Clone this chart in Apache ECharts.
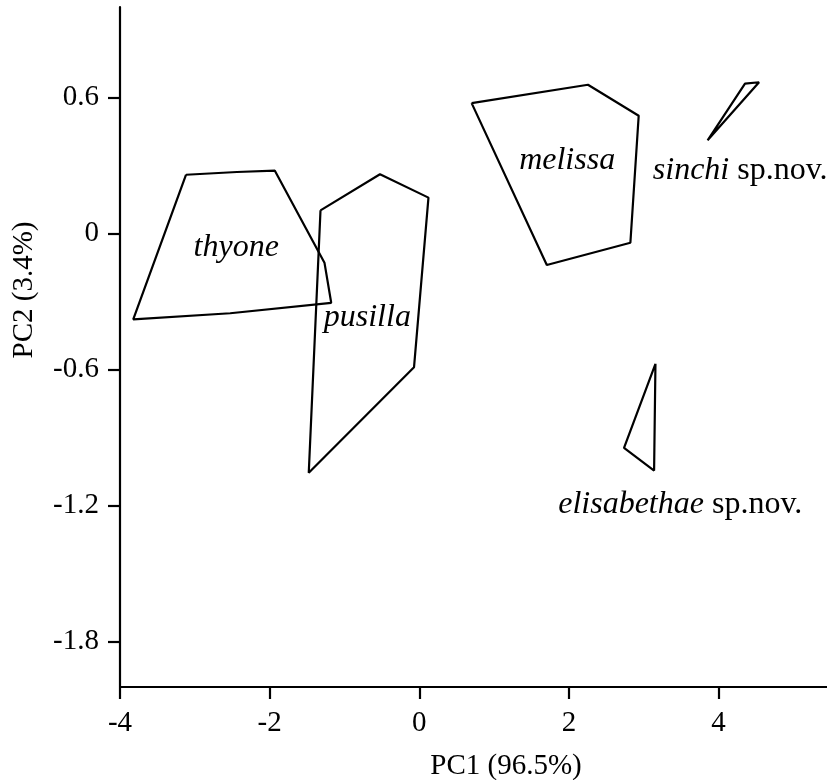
<!DOCTYPE html>
<html>
<head>
<meta charset="utf-8">
<script src="https://cdn.jsdelivr.net/npm/echarts@6/dist/echarts.min.js"></script>
<style>
html,body{margin:0;padding:0;background:#fff;}
#main{width:827px;height:780px;}
</style>
</head>
<body>
<div id="main"></div>
<script>
// ---- data (PC1, PC2) ----
const thyone = [[-3.117,0.260],[-2.437,0.272],[-1.93,0.278],[-1.946,0.272],[-1.267,-0.128],[-1.177,-0.305],[-2.527,-0.351],[-3.823,-0.378]];
const pusilla = [[-1.320,0.103],[-0.525,0.262],[0.123,0.159],[-0.070,-0.589],[-1.477,-1.055]];
const melissa = [[0.700,0.576],[2.255,0.657],[2.933,0.520],[2.822,-0.040],[1.705,-0.138]];
const sinchi = [[3.854,0.412],[4.354,0.662],[4.542,0.668]];
const elisabethae = [[3.157,-0.574],[3.139,-1.045],[2.737,-0.945]];

const groupNames = ['thyone','pusilla','melissa','sinchi','elisabethae'];
const groupHulls = [thyone, pusilla, melissa, sinchi, elisabethae];

// label anchor points (PC1, PC2) and text
const labelPoints = [[-2.446,-0.062],[-0.694,-0.371],[1.977,0.324],[4.29,0.277],[3.489,-1.195]];
const labelItalic = ['thyone','pusilla','melissa','sinchi','elisabethae'];
const labelSuffix = ['','','',' sp.nov.',' sp.nov.'];

const xTicks = [-4,-2,0,2,4];
const yTicks = [-1.8,-1.2,-0.6,0,0.6];
const xTitle = 'PC1 (96.5%)';
const yTitle = 'PC2 (3.4%)';

const FONT = '"Liberation Serif","Times New Roman",serif';
const FS = 29;
const FS_LABEL = 32;

const chart = echarts.init(document.getElementById('main'), null, {renderer:'canvas'});

const series = groupHulls.map((pts, i) => ({
  type: 'line',
  name: groupNames[i],
  data: pts.concat([pts[0]]),
  symbol: 'none',
  lineStyle: {color:'#000', width:2.2},
  silent: true,
  z: 3
}));

series.push({
  type: 'scatter',
  symbolSize: 0,
  silent: true,
  itemStyle: {opacity: 1},
  data: labelPoints.map((p, i) => ({
    value: p,
    itemStyle: {opacity: 1},
    label: {
      show: true,
      position: 'inside',
      color: '#000',
      opacity: 1,
      fontFamily: FONT,
      fontSize: FS_LABEL,
      formatter: '{i|' + labelItalic[i] + '}' + (labelSuffix[i] ? '{n|' + labelSuffix[i] + '}' : ''),
      rich: {
        i: {fontFamily: FONT, fontSize: FS_LABEL, fontStyle: 'italic', color:'#000'},
        n: {fontFamily: FONT, fontSize: FS_LABEL, color:'#000'}
      }
    }
  })),
  z: 5
});

chart.setOption({
  animation: false,
  backgroundColor: '#fff',
  grid: {left:120, right:0, top:7, bottom:93, containLabel:false},
  xAxis: {
    type: 'value',
    min: -4, max: 5.45,
    interval: 2,
    splitLine: {show:false},
    axisLine: {show:true, onZero:false, lineStyle:{color:'#000', width:2.2}},
    axisTick: {show:true, length:12, inside:false, customValues: xTicks, lineStyle:{color:'#000', width:2.2}},
    axisLabel: {customValues: xTicks, margin: 22, color:'#000', fontFamily: FONT, fontSize: FS}
  },
  yAxis: {
    type: 'value',
    min: -2, max: 1,
    splitLine: {show:false},
    axisLine: {show:true, onZero:false, lineStyle:{color:'#000', width:2.2}},
    axisTick: {show:true, length:12, inside:false, customValues: yTicks, lineStyle:{color:'#000', width:2.2}},
    axisLabel: {customValues: yTicks, margin: 21, color:'#000', fontFamily: FONT, fontSize: FS}
  },
  graphic: [
    {type:'text', x: 506, y: 766, style:{text: xTitle, fontFamily: FONT, fontSize: FS, fill:'#000', align:'center', verticalAlign:'middle'}},
    {type:'text', x: 24, y: 290, rotation: Math.PI/2, style:{text: yTitle, fontFamily: FONT, fontSize: FS, fill:'#000', align:'center', verticalAlign:'middle'}}
  ],
  series: series
});
</script>
</body>
</html>
